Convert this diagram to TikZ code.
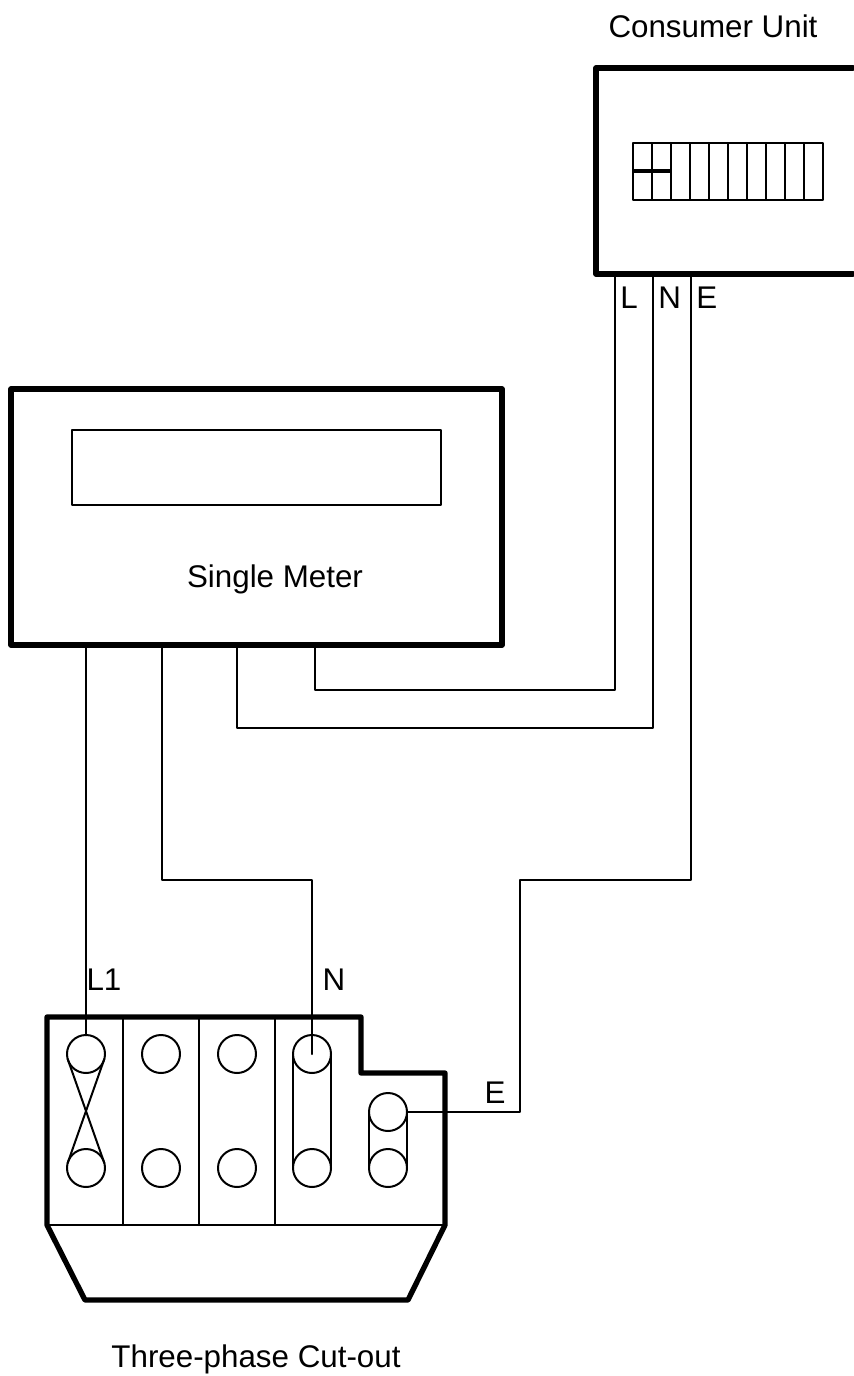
\documentclass[tikz,border=0pt]{standalone}
\usepackage{fontspec}
\setmainfont{Liberation Sans}
\usetikzlibrary{calc}
\begin{document}
\begin{tikzpicture}[x=0.75pt,y=-0.75pt,line cap=round,line join=round,
  casing/.style={line width=4pt},
  wire/.style={line width=1.5pt},
  terminal/.style={circle,draw,line width=1.5pt,minimum size=28.5pt,inner sep=0pt,outer sep=0pt},
  caption/.style={font=\fontsize{23.5}{28}\selectfont,inner sep=0pt,anchor=base}]
\useasboundingbox (0,0) rectangle (853,1376);
\path
(86,645) coordinate (M1)
(162,645) coordinate (M2)
(237,645) coordinate (M3)
(315,645) coordinate (M4)
(615,274) coordinate (CL)
(653,274) coordinate (CN)
(691,274) coordinate (CE)
(520,880) coordinate (EB)
;
% consumer unit
\draw[casing] (853,68)--(596,68)--(596,274)--(853,274);
\draw[wire] (633,143) rectangle (823,200);
\foreach \k in {1,...,9}
\draw[wire] (633+19*\k,143)--(633+19*\k,200);
\draw[line width=3pt,line cap=butt] (633,171)--(671,171);
\node[caption] (cuname) at (713,38) {Consumer Unit};
\foreach \w/\t in {CL/L,CN/N,CE/E}
\node[caption,anchor=base west] at ($(\w)+(5,34)$) {\t};
% single meter
\draw[casing] (11,389) rectangle (502,645);
\draw[wire] (72,430) rectangle (441,505);
\node[caption] (metername) at (275,587) {Single Meter};
% cut-out
\draw[casing] (47,1017)--(361,1017)--(361,1073)--(445,1073)--(445,1225)
  --(408,1300)--(85,1300)--(47,1225)--cycle;
\draw[wire] (47,1225)--(445,1225);
\foreach \x in {123,199,275}
\draw[wire] (\x,1017)--(\x,1225);
\foreach \n/\x in {1/86,2/161,3/237,4/312}{
\node[terminal] (T\n a) at (\x,1054) {};
\node[terminal] (T\n b) at (\x,1168) {};
}
\node[terminal] (TEa) at (388,1112) {};
\node[terminal] (TEb) at (388,1168) {};
\draw[wire] (T1a.-165)--(T1b.15) (T1a.-15)--(T1b.165);
\draw[wire] (T4a.west)--(T4b.west) (T4a.east)--(T4b.east);
\draw[wire] (TEa.west)--(TEb.west) (TEa.east)--(TEb.east);
\node[caption] (cutname) at (256,1367) {Three-phase Cut-out};
\node[caption] (lonelabel) at (104,990) {L1};
\node[caption] (nlabel) at (334,990) {N};
\node[caption] (elabel) at (495,1103) {E};
% wiring
\draw[wire] (M1)--(T1a.north);
\draw[wire] (M2)--++(0,235)-|(T4a.center);
\draw[wire] (M3)--++(0,83)-|(CN);
\draw[wire] (M4)--++(0,45)-|(CL);
\draw[wire] (CE)|-(EB)|-(TEa.east);
\end{tikzpicture}
\end{document}
